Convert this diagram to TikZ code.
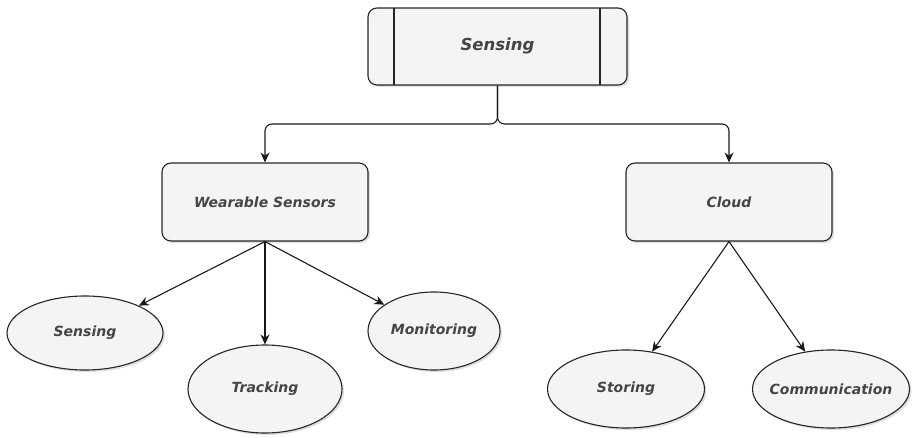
\documentclass[tikz,border=0pt]{standalone}
\usepackage{fontspec}
\setmainfont{DejaVu Sans}
\usetikzlibrary{arrows.meta,shapes.geometric,shadows}
\definecolor{boxfill}{HTML}{F4F4F4}
\definecolor{txt}{HTML}{454545}
\tikzset{
  base/.style={draw=black!85, line width=1.1pt, fill=boxfill, text=txt,
    drop shadow={opacity=0.25, shadow xshift=2pt, shadow yshift=-2pt}},
  rbox/.style={base, rounded corners=9pt, minimum width=206pt, minimum height=78pt, font=\bfseries\itshape\fontsize{14}{16}\selectfont},
  % negative x padding keeps the ellipse at its given size around long words
  leaf/.style={base, ellipse, inner ysep=0pt, inner xsep=-30pt, font=\bfseries\itshape\fontsize{14}{16}\selectfont},
  link/.style={draw=black!90, line width=1.1pt, -{Stealth[length=10pt,width=9pt]}},
}
\begin{document}
\begin{tikzpicture}[x=1pt,y=-1pt]
\useasboundingbox (0,0) rectangle (916,438);

% root process box with side bars
\node[rbox, minimum width=259pt, minimum height=77pt, font=\bfseries\itshape\fontsize{16.5}{19}\selectfont] (root) at (497.5,46.5) {Sensing};
\draw[line width=1.1pt, draw=black!85] (394,8) -- (394,85);
\draw[line width=1.1pt, draw=black!85] (600,8) -- (600,85);

% second level
\node[rbox] (ws) at (265,202) {Wearable Sensors};
\node[rbox] (cloud) at (729,202) {Cloud};

% leaves
\node[leaf, minimum width=156pt, minimum height=74pt] (sens) at (85,333) {Sensing};
\node[leaf, minimum width=154pt, minimum height=88pt] (track) at (265,389) {Tracking};
\node[leaf, minimum width=132pt, minimum height=78pt] (mon) at (434,331) {Monitoring};
\node[leaf, minimum width=157pt, minimum height=78pt] (stor) at (626,389) {Storing};
\node[leaf, minimum width=157pt, minimum height=78pt] (comm) at (831,389) {Communication};

% fork from the root
\coordinate (fork) at (497.5,124);
\draw[link, rounded corners=7pt] (root.south) -- (fork) -| (ws.north);
\draw[link, rounded corners=7pt] (root.south) -- (fork) -| (cloud.north);

% branches
\draw[link] (ws.south) -- (sens);
\draw[link] (ws.south) -- (track);
\draw[link] (ws.south) -- (mon);
\draw[link] (cloud.south) -- (stor);
\draw[link] (cloud.south) -- (comm);
\end{tikzpicture}
\end{document}
